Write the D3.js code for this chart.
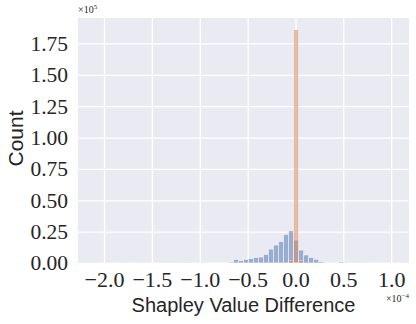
<!DOCTYPE html>
<html>
<head>
<meta charset="utf-8">
<script src="https://cdn.jsdelivr.net/npm/d3@7"></script>
<style>
body { margin: 0; background: #fff; }
svg { display: block; }
</style>
</head>
<body>
<svg id="chart"></svg>
<script>
// histogram bins, x in units of 1e-4
var binStart = -2.115;
var binWidth = 0.0524;

// blue series (all pairs)
var blueCounts = [
  30, 0, 0, 0, 10, 0, 0, 20, 0, 30,
  40, 30, 50, 60, 80, 70, 100, 120, 150, 200,
  250, 200, 500, 250, 350, 400, 450, 800, 2900, 1800,
  2900, 3600, 4400, 4800, 6800, 11100, 14300, 17000, 22800, 25700,
  18300, 10300, 6400, 4200, 2900, 1000, 400, 500, 250, 800,
  150, 100, 80, 60, 40, 30, 20, 10, 10, 30
];
// orange series
var orangeCounts = [];
for (var i = 0; i < blueCounts.length; i++) orangeCounts.push(0);
orangeCounts[39] = 2000;
orangeCounts[40] = 186000;
orangeCounts[41] = 1800;

var xTicks = [-2.0, -1.5, -1.0, -0.5, 0.0, 0.5, 1.0];
var yTicks = [0, 25000, 50000, 75000, 100000, 125000, 150000, 175000];

var W = 416, H = 324;
var m = {left: 78, right: 7, top: 18, bottom: 61};
var iw = W - m.left - m.right, ih = H - m.top - m.bottom;

var svg = d3.select("#chart").attr("width", W).attr("height", H);

function toBins(counts) {
  return counts.map(function(c, k) {
    return {x0: binStart + k * binWidth, x1: binStart + (k + 1) * binWidth, n: c};
  });
}
var blue = toBins(blueCounts), orange = toBins(orangeCounts);

// matplotlib style 5% margins
var lo = blue[0].x0, hi = blue[blue.length - 1].x1, pad = (hi - lo) * 0.05;
var x = d3.scaleLinear().domain([lo - pad, hi + pad]).range([0, iw]);
var ymax = d3.max(blueCounts.concat(orangeCounts)) * 1.05;
var y = d3.scaleLinear().domain([0, ymax]).range([ih, 0]);

var g = svg.append("g").attr("transform", "translate(" + m.left + "," + m.top + ")");

g.append("rect").attr("width", iw).attr("height", ih).attr("fill", "#EAEAF2");

var fmtX = function(d) { return d3.format(".1f")(d).replace("-", "\u2212"); };
var fmtY = function(d) { return (d / 1e5).toFixed(2); };

var xAxis = g.append("g").attr("transform", "translate(0," + ih + ")")
  .call(d3.axisBottom(x).tickValues(xTicks).tickFormat(fmtX).tickSize(-ih).tickPadding(8));
var yAxis = g.append("g")
  .call(d3.axisLeft(y).tickValues(yTicks).tickFormat(fmtY).tickSize(-iw).tickPadding(10));

[xAxis, yAxis].forEach(function(a) {
  a.select(".domain").remove();
  a.selectAll(".tick line").attr("stroke", "#fff").attr("stroke-width", 1.3);
  a.selectAll(".tick text").attr("fill", "#262626")
    .style("font-family", "'Liberation Serif', serif").style("font-size", "21.5px");
});
xAxis.selectAll(".tick text").style("font-size", "22px");

function drawBars(data, color) {
  g.append("g").selectAll("rect").data(data.filter(function(d) { return d.n > 0; }))
    .enter().append("rect")
    .attr("x", function(d) { return x(d.x0); })
    .attr("width", function(d) { return x(d.x1) - x(d.x0); })
    .attr("y", function(d) { return y(d.n); })
    .attr("height", function(d) { return ih - y(d.n); })
    .attr("fill", color)
    .attr("stroke", "#fff").attr("stroke-width", 0.6)
    .attr("opacity", 0.5);
}
drawBars(blue, "#4C72B0");
drawBars(orange, "#DD8452");

// axis labels
svg.append("text").attr("x", m.left + iw / 2).attr("y", 312)
  .attr("text-anchor", "middle").attr("fill", "#262626")
  .style("font-family", "'Liberation Sans', sans-serif").style("font-size", "20px")
  .text("Shapley Value Difference");
svg.append("text").attr("transform", "translate(23," + (m.top + ih / 2 - 2) + ") rotate(-90)")
  .attr("text-anchor", "middle").attr("fill", "#262626")
  .style("font-family", "'Liberation Sans', sans-serif").style("font-size", "21px")
  .text("Count");

// offset texts
var off1 = svg.append("text").attr("x", m.left).attr("y", 13).attr("fill", "#262626")
  .style("font-family", "'Liberation Serif', serif").style("font-size", "10px");
off1.append("tspan").text("\u00d710");
off1.append("tspan").attr("dy", -4).style("font-size", "7px").text("5");

var off2 = svg.append("text").attr("x", m.left + iw).attr("y", 302).attr("text-anchor", "end")
  .attr("fill", "#262626")
  .style("font-family", "'Liberation Serif', serif").style("font-size", "10px");
off2.append("tspan").text("\u00d710");
off2.append("tspan").attr("dy", -4).style("font-size", "7px").text("\u22124");
</script>
</body>
</html>
